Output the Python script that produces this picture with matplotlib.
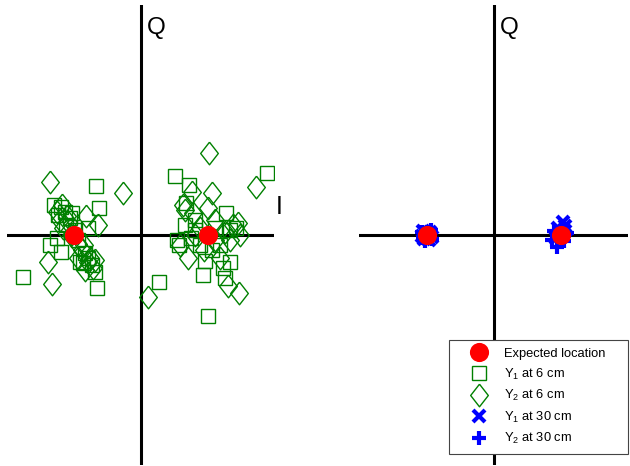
import matplotlib
matplotlib.use("Agg")
import matplotlib.pyplot as plt
from matplotlib.lines import Line2D

plt.rcParams['font.family'] = ['Liberation Sans', 'DejaVu Sans']
plt.rcParams['mathtext.default'] = 'regular'

# Expected constellation locations (I, Q)
expected_I = [-1.0, 1.0]
expected_Q = [0.0, 0.0]

# Y1 at 6 cm (squares)
y1_6_I = [-0.66, -1.29, -1.19, -0.62, -1.13, -1.05, -0.78, -1.35, -1.19, -0.83, -0.78,
          -0.86, -0.72, -1.75, -0.65, -0.93, -1.23, -1.11, -0.98, -0.90, -0.68, -1.25, -1.02,
          0.51, 0.72, 1.89, 0.68, 1.28, 0.57, 0.54, 0.96, 0.93, 1.23, 1.26, 0.28, 1.01,
          1.34, 1.34, 0.81, 1.18, 0.75, 0.89, 1.11, 1.42, 1.07, 0.81, 0.66]
y1_6_Q = [0.73, 0.45, 0.42, 0.40, 0.34, 0.25, 0.10, -0.15, -0.25, -0.27, -0.34,
          -0.42, -0.45, -0.63, -0.79, -0.07, 0.30, 0.15, 0.07, -0.40, -0.55, -0.04, 0.33,
          0.88, 0.75, 0.93, 0.48, 0.33, -0.15, -0.07, -0.39, -0.60, -0.49, -0.64, -0.70, -1.21,
          -0.40, 0.07, 0.22, -0.15, -0.04, -0.15, 0.10, 0.10, -0.22, 0.07, 0.15]

# Y2 at 6 cm (diamonds)
y2_6_I = [-1.35, -0.26, -0.81, -0.63, -1.20, -1.16, -1.25, -1.38, -1.32, -0.71, -0.87,
          -0.94, -0.75, -0.83, -1.08, -0.93, -1.17, -1.04, -0.78, -0.68, -1.10, -0.84,
          1.02, 1.72, 0.77, 1.07, 0.63, 1.01, 0.78, 1.38, 1.46, 0.71, 1.19, 1.31, 1.47,
          0.11, 0.59, 0.89, 1.11, 0.81, 1.26, 0.95, 1.34, 0.67, 1.11, 1.48]
y2_6_Q = [0.79, 0.63, 0.28, 0.15, 0.22, 0.10, 0.34, -0.40, -0.73, -0.49, -0.22,
          -0.34, -0.34, -0.52, 0.19, -0.13, 0.45, 0.0, -0.40, -0.37, 0.28, -0.15,
          1.22, 0.72, 0.64, 0.63, 0.45, 0.40, 0.33, 0.15, 0.18, -0.34, -0.34, -0.76, -0.87,
          -0.93, -0.15, 0.10, -0.07, 0.0, 0.04, -0.22, -0.07, 0.37, 0.22, 0.0]

# Y1 at 30 cm (x)
y1_30_I = [-1.05, -0.95, -0.92, -1.03, -0.99, -1.06, -0.96,
           1.03, 0.96, 1.06, 0.94, 1.00, 1.07]
y1_30_Q = [0.06, 0.045, -0.03, -0.06, 0.015, -0.015, -0.075,
           0.19, 0.10, 0.06, -0.045, -0.03, 0.13]

# Y2 at 30 cm (+)
y2_30_I = [-1.06, -0.93, -1.02, -0.92, -0.98, -1.05,
           0.955, 0.88, 1.045, 0.97, 1.09, 0.91]
y2_30_Q = [0.045, 0.075, -0.09, -0.06, 0.0, -0.045,
           -0.18, -0.075, -0.09, -0.03, 0.03, 0.06]

labels = ['Expected location', 'Y$_1$ at 6 cm', 'Y$_2$ at 6 cm',
          'Y$_1$ at 30 cm', 'Y$_2$ at 30 cm']

W, H = 630, 466
fig = plt.figure(figsize=(W / 100, H / 100), dpi=100)

diamond = [(0, 1), (0.78, 0), (0, -1), (-0.78, 0), (0, 1)]

GREEN = '#008000'
RED = '#ff0000'
BLUE = '#0000ff'


def make_axes(x0, x1, cx):
    ax = fig.add_axes([x0 / W, (H - 465) / H, (x1 - x0) / W, 460 / H])
    unit = 67.0
    ax.set_xlim((x0 - cx) / unit, (x1 - cx) / unit)
    ax.set_ylim(-230 / unit, 230 / unit)
    ax.axis('off')
    ax.axhline(0, color='black', lw=2.2, zorder=1)
    ax.axvline(0, color='black', lw=2.2, zorder=1)
    ax.text(0.09, 3.09, 'Q', fontsize=17.5, ha='left', va='center')
    return ax


axL = make_axes(7, 274, 140.5)
axR = make_axes(359, 628, 493.5)

axL.text(2.02, 0.42, 'I', fontsize=18, ha='left', va='center', clip_on=False)

sq_kw = dict(ls='none', marker='s', ms=10.3, mfc='none', mec=GREEN, mew=1.0)
di_kw = dict(ls='none', marker=diamond, ms=16.3, mfc='none', mec=GREEN, mew=1.0)
red_kw = dict(ls='none', marker='o', ms=13.8, mfc=RED, mec=RED, mew=0)
x_kw = dict(ls='none', marker='x', ms=8.5, mec=BLUE, mew=3.0)
p_kw = dict(ls='none', marker='+', ms=10.5, mec=BLUE, mew=3.0)

axL.plot(y1_6_I, y1_6_Q, zorder=2, **sq_kw)
axL.plot(y2_6_I, y2_6_Q, zorder=2, **di_kw)
axL.plot(expected_I, expected_Q, zorder=5, **red_kw)

axR.plot(y1_30_I, y1_30_Q, zorder=3, **x_kw)
axR.plot(y2_30_I, y2_30_Q, zorder=3, **p_kw)
axR.plot(expected_I, expected_Q, zorder=5, **red_kw)

handles = [Line2D([], [], **red_kw), Line2D([], [], **sq_kw), Line2D([], [], **di_kw),
           Line2D([], [], **x_kw), Line2D([], [], **p_kw)]
leg = fig.legend(handles, labels, loc='lower left',
                 bbox_to_anchor=(449 / W, (H - 454) / H, 179 / W, 110 / H),
                 mode='expand',
                 fontsize=9.3, frameon=True, fancybox=False, framealpha=1,
                 edgecolor='#444444', borderpad=0.6, handlelength=3.46,
                 handletextpad=0.2, labelspacing=0.5, borderaxespad=0.0,
                 numpoints=1)
leg.get_frame().set_linewidth(0.8)

fig.savefig('out.png', dpi=100)
